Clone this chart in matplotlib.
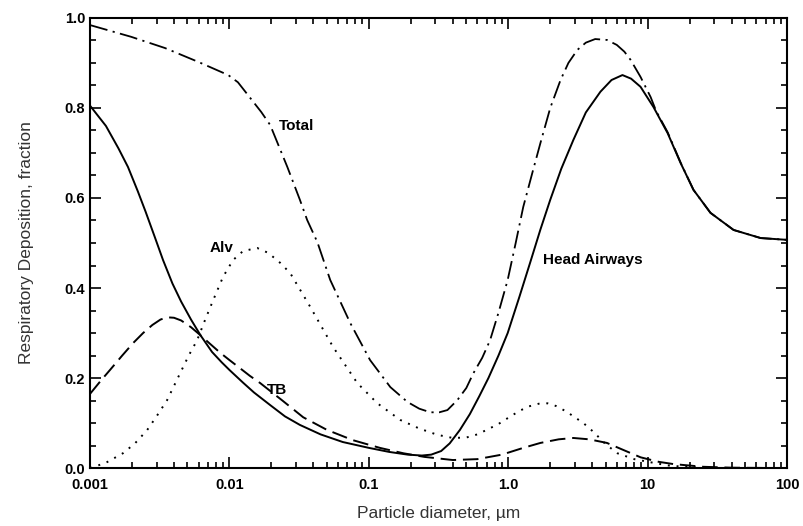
import numpy as np
import matplotlib
matplotlib.use('Agg')
import matplotlib.pyplot as plt
from matplotlib.ticker import FixedLocator, FixedFormatter, LogLocator, NullFormatter, MultipleLocator

plt.rcParams['font.family'] = ['Liberation Sans', 'DejaVu Sans']

# values (particle diameter in um, deposition fraction)
total_d = [0.001, 0.00197, 0.00345, 0.006, 0.0098, 0.0115, 0.013, 0.0169, 0.0196,
           0.026, 0.032, 0.0361, 0.0427, 0.0528, 0.0736, 0.102, 0.1425, 0.189, 0.23,
           0.276, 0.32, 0.366, 0.431, 0.5, 0.56, 0.65, 0.74, 0.85, 0.99, 1.13, 1.28, 1.5, 1.7,
           2.0, 2.37, 2.7, 3.13, 3.6, 4.2, 5.1, 6.0, 6.8, 7.53, 8.88, 10.5, 11.5, 13.9, 17.2,
           21.3, 28.2, 41.3, 64.6, 100]
total_f = [0.984, 0.958, 0.933, 0.902, 0.873, 0.857, 0.836, 0.791, 0.762,
           0.669, 0.596, 0.551, 0.502, 0.418, 0.322, 0.240, 0.180, 0.147, 0.132,
           0.124, 0.124, 0.129, 0.151, 0.178, 0.21, 0.245, 0.284, 0.345, 0.418, 0.50, 0.58, 0.66, 0.722,
           0.80, 0.862, 0.90, 0.929, 0.945, 0.953, 0.951, 0.94, 0.925, 0.907, 0.869, 0.824, 0.793, 0.746, 0.679,
           0.618, 0.567, 0.529, 0.511, 0.507]

head_d = [0.001, 0.0013, 0.0016, 0.00187, 0.0022, 0.0025, 0.0029, 0.00334, 0.0039, 0.0045,
          0.0053, 0.0062, 0.0075, 0.0088, 0.01, 0.0125, 0.015, 0.0196, 0.025, 0.032, 0.045,
          0.065, 0.1, 0.14, 0.19, 0.24, 0.28, 0.33, 0.38, 0.45, 0.53, 0.62, 0.72, 0.85, 0.99,
          1.2, 1.44, 1.7, 2.0, 2.4, 2.93, 3.6, 4.58, 5.5, 6.59, 7.6, 8.88, 11.0, 13.9, 17.2,
          21.3, 28.2, 41.3, 64.6, 100]
head_f = [0.805, 0.76, 0.71, 0.669, 0.615, 0.57, 0.515, 0.462, 0.41, 0.37,
          0.33, 0.295, 0.258, 0.235, 0.218, 0.19, 0.168, 0.14, 0.115, 0.096, 0.075,
          0.058, 0.045, 0.036, 0.03, 0.028, 0.03, 0.038, 0.055, 0.085, 0.12, 0.16, 0.2, 0.25, 0.30,
          0.38, 0.458, 0.53, 0.596, 0.665, 0.729, 0.79, 0.836, 0.862, 0.873, 0.865, 0.847, 0.802, 0.744, 0.678,
          0.618, 0.567, 0.529, 0.511, 0.507]

alv_d = [0.001, 0.0013, 0.00172, 0.0021, 0.00256, 0.003, 0.00357, 0.00443, 0.0051, 0.00586,
         0.0067, 0.00764, 0.009, 0.0106, 0.0125, 0.0158, 0.019, 0.0231, 0.0273, 0.038, 0.0554,
         0.0826, 0.115, 0.168, 0.23, 0.31, 0.4, 0.5, 0.6, 0.7, 0.85, 0.99,
         1.2, 1.4, 1.65, 1.91, 2.2, 2.6, 3.0, 3.46, 4.1, 5.0, 6.07, 8.0, 10.5, 14, 20, 30, 100]
alv_f = [0.0, 0.012, 0.033, 0.055, 0.084, 0.115, 0.151, 0.211, 0.25, 0.284,
         0.33, 0.373, 0.425, 0.462, 0.482, 0.489, 0.478, 0.456, 0.433, 0.358, 0.269,
         0.189, 0.144, 0.107, 0.088, 0.074, 0.067, 0.068, 0.075, 0.085, 0.098, 0.111,
         0.127, 0.137, 0.143, 0.144, 0.138, 0.126, 0.113, 0.1, 0.08, 0.053, 0.033, 0.02, 0.013, 0.006, 0.002, 0.0, 0.0]

tb_d = [0.001, 0.0012, 0.00139, 0.0017, 0.00204, 0.0024, 0.0028, 0.0032, 0.00357, 0.004,
        0.0045, 0.0053, 0.0062, 0.0072, 0.0086, 0.01, 0.0119, 0.014, 0.0166, 0.024, 0.0338,
        0.05, 0.077, 0.12, 0.177, 0.25, 0.4, 0.6, 0.9, 1.28, 1.7, 2.3, 2.93, 3.8, 5.1, 6.5,
        8.9, 12, 15.3, 25, 40, 100]
tb_f = [0.165, 0.195, 0.218, 0.25, 0.278, 0.3, 0.318, 0.33, 0.335, 0.334,
        0.328, 0.313, 0.295, 0.277, 0.256, 0.24, 0.222, 0.205, 0.189, 0.15, 0.113,
        0.085, 0.062, 0.045, 0.033, 0.025, 0.018, 0.02, 0.03, 0.045, 0.056, 0.064, 0.067, 0.064, 0.056, 0.042,
        0.024, 0.014, 0.009, 0.003, 0.001, 0.0]

xticks = [0.001, 0.01, 0.1, 1.0, 10, 100]
xticklabels = ['0.001', '0.01', '0.1', '1.0', '10', '100']
yticks = [0.0, 0.2, 0.4, 0.6, 0.8, 1.0]
yticklabels = ['0.0', '0.2', '0.4', '0.6', '0.8', '1.0']

fig = plt.figure(figsize=(8.04, 5.26), dpi=100)
ax = fig.add_axes([0.112, 0.110, 0.867, 0.856])

ax.plot(total_d, total_f, color='k', lw=1.3, dashes=[10, 3, 1.2, 3])
ax.plot(head_d, head_f, color='k', lw=1.4)
ax.plot(alv_d, alv_f, color='k', lw=1.4, dashes=[1, 3.5])
ax.plot(tb_d, tb_f, color='k', lw=1.4, dashes=[8, 3.5])

ax.set_xscale('log')
ax.set_xlim(0.001, 100)
ax.set_ylim(0, 1.0)

ax.xaxis.set_major_locator(FixedLocator(xticks))
ax.xaxis.set_major_formatter(FixedFormatter(xticklabels))
ax.xaxis.set_minor_locator(LogLocator(base=10, subs=np.arange(2, 10)))
ax.xaxis.set_minor_formatter(NullFormatter())
ax.yaxis.set_major_locator(FixedLocator(yticks))
ax.yaxis.set_major_formatter(FixedFormatter(yticklabels))
ax.yaxis.set_minor_locator(MultipleLocator(0.05))

ax.tick_params(which='both', direction='in', top=True, right=True, width=1.2)
ax.tick_params(which='major', length=8, labelsize=10.5)
ax.tick_params(axis='x', which='major', pad=7)
ax.tick_params(which='minor', length=4.5)
for lab in ax.get_xticklabels() + ax.get_yticklabels():
    lab.set_fontweight('bold')
for s in ax.spines.values():
    s.set_linewidth(1.5)

ax.text(0.0228, 0.76, 'Total', fontsize=11, fontweight='bold', va='center')
ax.text(0.0072, 0.489, 'Alv', fontsize=11, fontweight='bold', va='center')
ax.text(0.0187, 0.173, 'TB', fontsize=11, fontweight='bold', va='center')
ax.text(1.76, 0.462, 'Head Airways', fontsize=11, fontweight='bold', va='center')

ax.set_xlabel('Particle diameter, \u00b5m', fontsize=12.5, color='#333333', labelpad=10)
ax.set_ylabel('Respiratory Deposition, fraction', fontsize=12.5, color='#333333', labelpad=22)

fig.savefig('out.png', dpi=100)
